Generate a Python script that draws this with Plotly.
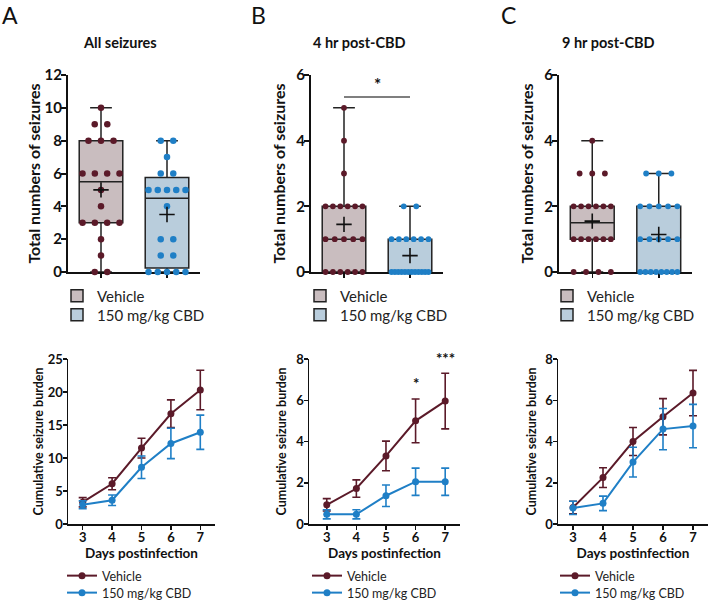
import numpy as np
import plotly.graph_objects as go
from collections import Counter

W, H = 709, 600
FONT = "Lato"
VEH = "#5b1a29"
CBD = "#1f7fc6"
VEH_FILL = "#c9bdbf"
CBD_FILL = "#b9cddc"
INK = "#111111"

groups = ["Vehicle", "150 mg/kg CBD"]
panel_letters = ["A", "B", "C"]
panel_titles = ["All seizures", "4 hr post-CBD", "9 hr post-CBD"]

# ---- Box panels: individual animal counts ----
a_vehicle = [10, 9, 9, 8, 8, 8, 6, 6, 6, 6, 5, 4, 3, 3, 3, 3, 2, 1, 0, 0]
a_cbd = [8, 8, 7, 6, 6, 5, 5, 5, 5, 5, 4, 2, 2, 1, 1, 0, 0, 0, 0, 0]
b_vehicle = [5, 4, 3, 2, 2, 2, 2, 2, 2, 1, 1, 1, 1, 1, 0, 0, 0, 0, 0, 0]
b_cbd = [2, 2, 1, 1, 1, 1, 1, 1, 0, 0, 0, 0, 0, 0, 0, 0, 0, 0, 0, 0]
c_vehicle = [4, 3, 3, 3, 2, 2, 2, 2, 2, 2, 1, 1, 1, 1, 1, 1, 0, 0, 0, 0]
c_cbd = [3, 3, 3, 2, 2, 2, 2, 2, 1, 1, 1, 1, 1, 0, 0, 0, 0, 0, 0, 0, 0]

# box statistics as drawn (Vehicle, CBD)
a_q1, a_median, a_q3, a_low, a_high = [3, 0.25], [5.5, 4.5], [8, 5.75], [0, 0], [10, 8]
b_q1, b_median, b_q3, b_low, b_high = [0, 0], [1, 0], [2, 1], [0, 0], [5, 2]
c_q1, c_median, c_q3, c_low, c_high = [1, 0], [1.5, 1], [2, 2], [0, 0], [4, 3]

box_y_max = [12, 6, 6]
box_y_ticks = [[0, 2, 4, 6, 8, 10, 12], [0, 2, 4, 6], [0, 2, 4, 6]]

# ---- Line panels: cumulative seizure burden (mean, SEM) ----
days = [3, 4, 5, 6, 7]
a_veh_mean = [3.3, 6.1, 11.5, 16.7, 20.3]
a_veh_sem = [0.7, 0.9, 1.5, 2.1, 3.0]
a_cbd_mean = [2.9, 3.6, 8.6, 12.2, 13.9]
a_cbd_sem = [0.6, 0.8, 1.7, 2.3, 2.6]
b_veh_mean = [0.93, 1.72, 3.3, 5.0, 5.96]
b_veh_sem = [0.3, 0.42, 0.72, 1.06, 1.35]
b_cbd_mean = [0.47, 0.47, 1.37, 2.05, 2.05]
b_cbd_sem = [0.22, 0.22, 0.52, 0.66, 0.66]
c_veh_mean = [0.8, 2.25, 4.0, 5.2, 6.35]
c_veh_sem = [0.3, 0.48, 0.68, 0.88, 1.1]
c_cbd_mean = [0.78, 1.0, 3.0, 4.6, 4.75]
c_cbd_sem = [0.32, 0.35, 0.72, 1.0, 1.05]
line_y_max = [25, 8, 8]
line_y_ticks = [[0, 5, 10, 15, 20, 25], [0, 2, 4, 6, 8], [0, 2, 4, 6, 8]]
line_x_range = [[2.5, 7.5], [2.4, 7.5], [2.5, 7.5]]

# ---- layout geometry (pixels) ----
box_x_px = [(68, 200), (311, 443), (559, 692)]
box_y_px = (272, 75)
line_x_px = [(68, 215), (309, 460), (558, 708)]
line_y_px = (524, 359)
top_leg_rows = [296, 315]
bot_leg_rows = [576, 593]
top_leg_x = [57, 300, 547]
bot_leg_x = [62, 307, 555]
top_title_standoff = [0, 7, 7]
bot_title_standoff = [1, 7, 6]


def px_x(p):
    return p / W


def px_y(p):
    return 1 - p / H


def swarm(values, center, max_step=0.19, max_span=0.56):
    cnt = Counter(values)
    xs, ys = [], []
    for v in sorted(cnt, reverse=True):
        k = cnt[v]
        step = 0 if k == 1 else min(max_step, max_span / (k - 1))
        for i in range(k):
            xs.append(center + (i - (k - 1) / 2) * step)
            ys.append(v)
    return xs, ys


def legend_id(n):
    return "legend" if n == 1 else "legend%d" % n


fig = go.Figure()

box_sets = [
    (a_vehicle, a_cbd, a_q1, a_median, a_q3, a_low, a_high),
    (b_vehicle, b_cbd, b_q1, b_median, b_q3, b_low, b_high),
    (c_vehicle, c_cbd, c_q1, c_median, c_q3, c_low, c_high),
]
dot_sizes = [6.5, 5.8, 5.8]

for p, (veh, cbd, q1, med, q3, lo, hi) in enumerate(box_sets):
    ax = "" if p == 0 else str(p + 1)
    xref, yref = "x" + ax, "y" + ax
    for g, (vals, line_c, fill_c) in enumerate(
        [(veh, VEH, VEH_FILL), (cbd, CBD, CBD_FILL)]
    ):
        fig.add_trace(go.Box(
            x=[g], q1=[q1[g]], median=[med[g]], q3=[q3[g]],
            lowerfence=[lo[g]], upperfence=[hi[g]],
            name=groups[g], width=0.66, whiskerwidth=0.5,
            fillcolor=fill_c, line=dict(color="#222222", width=1.5),
            boxpoints=False, xaxis=xref, yaxis=yref,
            legend=legend_id(1 + 2 * p + g), showlegend=True,
            hoverinfo="skip",
        ))
        xs, ys = swarm(vals, g)
        fig.add_trace(go.Scatter(
            x=xs, y=ys, mode="markers",
            marker=dict(color=line_c, size=dot_sizes[p], line=dict(width=0)),
            xaxis=xref, yaxis=yref, showlegend=False, cliponaxis=False,
            hoverinfo="skip",
        ))
        fig.add_trace(go.Scatter(
            x=[g], y=[float(np.mean(vals))], mode="markers",
            marker=dict(symbol="cross-thin", size=11,
                        line=dict(color="#111111", width=1.6)),
            xaxis=xref, yaxis=yref, showlegend=False, cliponaxis=False,
            hoverinfo="skip",
        ))

line_sets = [
    (a_veh_mean, a_veh_sem, a_cbd_mean, a_cbd_sem),
    (b_veh_mean, b_veh_sem, b_cbd_mean, b_cbd_sem),
    (c_veh_mean, c_veh_sem, c_cbd_mean, c_cbd_sem),
]
for p, (vm, vs, cm, cs) in enumerate(line_sets):
    ax = str(p + 4)
    for g, (m, s, col) in enumerate([(vm, vs, VEH), (cm, cs, CBD)]):
        fig.add_trace(go.Scatter(
            x=days, y=m, name=groups[g], mode="lines+markers",
            line=dict(color=col, width=2),
            marker=dict(color=col, size=7),
            error_y=dict(type="data", array=s, visible=True, color=col,
                         thickness=1.6, width=4),
            xaxis="x" + ax, yaxis="y" + ax, legend=legend_id(7 + 2 * p + g),
            cliponaxis=False, hoverinfo="skip",
        ))

tick_font_top = dict(family=FONT, size=15, color=INK, weight="bold")
tick_font_bot = dict(family=FONT, size=13, color=INK, weight="bold")
layout = dict(
    width=W, height=H,
    margin=dict(l=0, r=0, t=0, b=0, autoexpand=False),
    paper_bgcolor="white", plot_bgcolor="white",
    font=dict(family=FONT, color=INK),
    boxmode="overlay",
)

for p in range(3):
    ax = "" if p == 0 else str(p + 1)
    x0, x1 = box_x_px[p]
    layout["xaxis" + ax] = dict(
        domain=[px_x(x0), px_x(x1)], range=[-0.5, 1.5], anchor="y" + ax,
        showgrid=False, zeroline=False, showline=True, linecolor=INK,
        linewidth=2, tickvals=[0, 1], ticks="outside", ticklen=4,
        tickwidth=1.5, tickcolor=INK, showticklabels=False,
        layer="below traces", fixedrange=True,
    )
    layout["yaxis" + ax] = dict(
        domain=[px_y(box_y_px[0]), px_y(box_y_px[1])],
        range=[0, box_y_max[p]], anchor="x" + ax,
        showgrid=False, zeroline=False, showline=True, linecolor=INK,
        linewidth=2, tickvals=box_y_ticks[p], ticks="outside", ticklen=5,
        tickwidth=2, tickcolor=INK, tickfont=tick_font_top,
        ticklabelstandoff=-4,
        title=dict(text="Total numbers of seizures",
                   standoff=top_title_standoff[p],
                   font=dict(family=FONT, size=16, color=INK, weight="bold")),
        layer="below traces",
    )
    ax2 = str(p + 4)
    x0, x1 = line_x_px[p]
    layout["xaxis" + ax2] = dict(
        domain=[px_x(x0), px_x(x1)], range=line_x_range[p], anchor="y" + ax2,
        showgrid=False, zeroline=False, showline=True, linecolor=INK,
        linewidth=1.5, tickvals=days, ticks="outside", ticklen=4,
        tickwidth=1.5, tickcolor=INK, tickfont=tick_font_bot,
        ticklabelstandoff=-3,
        title=dict(text="Days postinfection", standoff=3,
                   font=dict(family=FONT, size=13.5, color=INK, weight="bold")),
    )
    layout["yaxis" + ax2] = dict(
        domain=[px_y(line_y_px[0]), px_y(line_y_px[1])],
        range=[0, line_y_max[p]], anchor="x" + ax2,
        showgrid=False, zeroline=False, showline=True, linecolor=INK,
        linewidth=1.5, tickvals=line_y_ticks[p], ticks="outside", ticklen=4,
        tickwidth=1.5, tickcolor=INK, tickfont=tick_font_bot,
        ticklabelstandoff=-3,
        title=dict(text="Cumulative seizure burden",
                   standoff=bot_title_standoff[p],
                   font=dict(family=FONT, size=12.5, color=INK, weight="bold")),
    )

for p in range(3):
    for g in range(2):
        layout[legend_id(1 + 2 * p + g)] = dict(
            x=px_x(top_leg_x[p]), y=px_y(top_leg_rows[g]),
            xanchor="left", yanchor="middle",
            bgcolor="rgba(0,0,0,0)", borderwidth=0,
            font=dict(family=FONT, size=15, color="#222222"),
        )
        layout[legend_id(7 + 2 * p + g)] = dict(
            x=px_x(bot_leg_x[p]), y=px_y(bot_leg_rows[g]),
            xanchor="left", yanchor="middle",
            bgcolor="rgba(0,0,0,0)", borderwidth=0,
            font=dict(family=FONT, size=12.5, color="#222222"),
        )

annotations = []
letter_x = [10, 258, 508]
title_x = [120, 359, 608]
for p in range(3):
    annotations.append(dict(
        x=px_x(letter_x[p]), y=px_y(15), xref="paper", yref="paper",
        xanchor="center", yanchor="middle",
        text=panel_letters[p], showarrow=False,
        font=dict(family=FONT, size=23, color=INK),
    ))
    annotations.append(dict(
        x=px_x(title_x[p]), y=px_y(43), xref="paper", yref="paper",
        xanchor="center", yanchor="middle",
        text=panel_titles[p], showarrow=False,
        font=dict(family=FONT, size=14.5, color=INK, weight="bold"),
    ))

# significance markers
annotations.append(dict(x=0.5, y=5.33, xref="x2", yref="y2", text="*",
                        showarrow=False, yanchor="bottom", xanchor="center",
                        font=dict(family=FONT, size=17, color=INK, weight="bold")))
annotations.append(dict(x=6, y=6.3, xref="x5", yref="y5", text="*",
                        showarrow=False, yanchor="bottom", xanchor="center",
                        font=dict(family=FONT, size=15, color=INK, weight="bold")))
annotations.append(dict(x=7, y=7.5, xref="x5", yref="y5", text="***",
                        showarrow=False, yanchor="bottom", xanchor="center",
                        font=dict(family=FONT, size=15, color=INK, weight="bold")))
layout["annotations"] = annotations
layout["shapes"] = [dict(type="line", xref="x2", yref="y2", x0=0, x1=1,
                         y0=5.33, y1=5.33, line=dict(color="#555555", width=1.6))]

fig.update_layout(**layout)
# remove the browser's default page margin so the 709x600 figure fills the window
fig.write_html(
    "out.html",
    config={"displayModeBar": False, "staticPlot": True},
    post_script="document.body.style.margin = '0px';",
)
